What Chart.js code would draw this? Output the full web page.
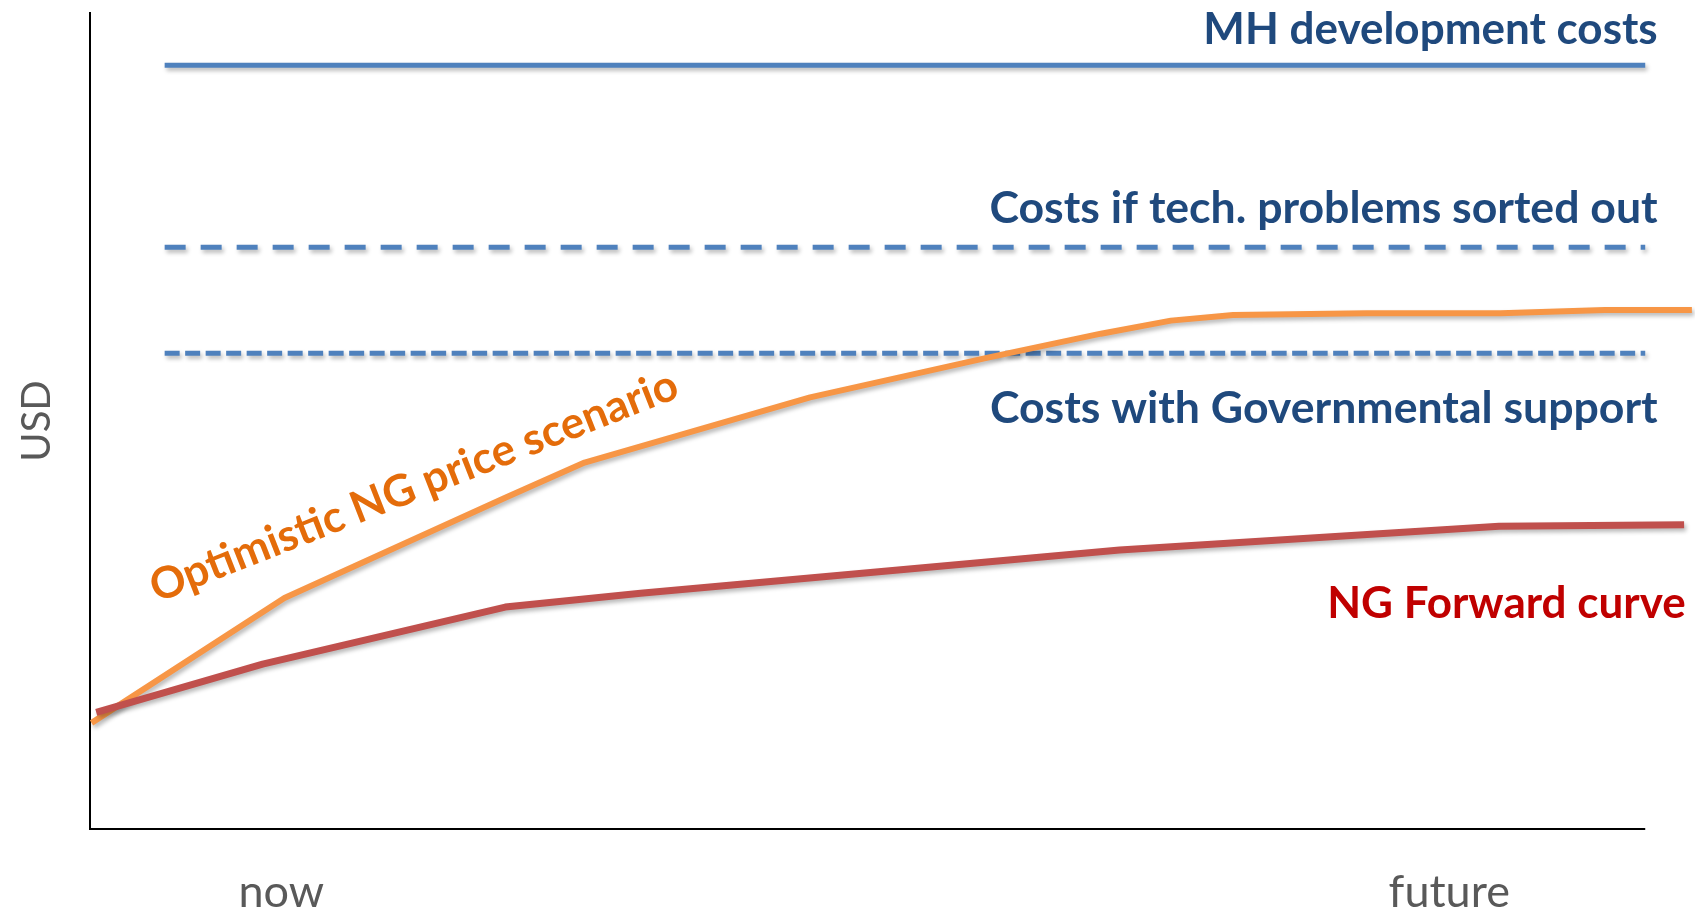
<!DOCTYPE html>
<html>
<head>
<meta charset="utf-8">
<script src="https://cdn.jsdelivr.net/npm/chart.js@4.4.0/dist/chart.umd.min.js"></script>
<style>
  html, body { margin: 0; padding: 0; background: #fff; }
  #wrap { width: 1695px; height: 911px; position: relative; }
</style>
</head>
<body>
<div id="wrap"><canvas id="chart"></canvas></div>
<script>
// x: 0..100 along the drawn axis (the curves run a bit past it), y: 0..100 unmarked USD
const tickLabels = ["now", "future"];
const tickValues = [12.3, 87.4];

const forwardX = [0.4, 11.1, 26.7, 35.4, 66.2, 90.6, 102.5];
const forwardY = [14.3, 20.2, 27.2, 28.9, 34.2, 37.1, 37.3];

const optimisticX = [0.1, 12.5, 26.7, 31.8, 46.3, 57.8, 65.0, 69.5, 73.5, 82.1, 90.7, 97.4, 103.0];
const optimisticY = [13.0, 28.3, 40.6, 44.9, 52.9, 57.8, 60.7, 62.3, 63.0, 63.2, 63.2, 63.6, 63.6];

const costX = [4.8, 100];
const mhCosts = [93.6, 93.6];
const techCosts = [71.3, 71.3];
const govCosts = [58.3, 58.3];

const xy = (xs, ys) => xs.map((x, i) => ({ x: x, y: ys[i] }));

const BLUE = '#4F81BD';
const FONT = 'Lato, "Open Sans", sans-serif';

function drawLabel(chart, text, xv, yv, color, align, size, angle) {
    const ctx = chart.ctx;
    const x = chart.scales.x.getPixelForValue(xv);
    const y = chart.scales.y.getPixelForValue(yv);
    ctx.save();
    ctx.translate(x, y);
    if (angle) ctx.rotate(angle * Math.PI / 180);
    ctx.font = 'bold ' + size + 'px ' + FONT;
    ctx.fillStyle = color;
    ctx.textAlign = align;
    ctx.textBaseline = 'alphabetic';
    ctx.fillText(text, 0, 0);
    ctx.restore();
}

const overlay = {
    id: 'overlay',
    beforeDatasetsDraw(chart) {
        const ctx = chart.ctx;
        ctx.save();
        ctx.shadowColor = 'rgba(0,0,0,0.28)';
        ctx.shadowBlur = 4;
        ctx.shadowOffsetX = 2;
        ctx.shadowOffsetY = 3;
    },
    afterDatasetsDraw(chart) {
        const ctx = chart.ctx;
        ctx.restore();

        // x axis only runs to the end of the cost lines
        const xs = chart.scales.x;
        const bottom = chart.chartArea.bottom;
        ctx.save();
        ctx.strokeStyle = '#000';
        ctx.lineWidth = 2;
        ctx.beginPath();
        ctx.moveTo(chart.chartArea.left - 1, bottom);
        ctx.lineTo(xs.getPixelForValue(100), bottom);
        ctx.stroke();
        ctx.restore();

        drawLabel(chart, 'MH development costs', 100.8, 96.2, '#1F497D', 'right', 44);
        drawLabel(chart, 'Costs if tech. problems sorted out', 100.8, 74.3, '#1F497D', 'right', 44.6);
        drawLabel(chart, 'Costs with Governmental support', 100.8, 49.8, '#1F497D', 'right', 44.6);
        drawLabel(chart, 'NG Forward curve', 102.6, 25.9, '#C00000', 'right', 44);
        drawLabel(chart, 'Optimistic NG price scenario', 4.3, 27.7, '#E46C0A', 'left', 44, -21.5);
    }
};

new Chart(document.getElementById('chart'), {
    type: 'line',
    data: {
        datasets: [
            { label: 'NG Forward curve', data: xy(forwardX, forwardY), borderColor: '#C0504D', borderWidth: 7 },
            { label: 'Optimistic NG price scenario', data: xy(optimisticX, optimisticY), borderColor: '#F79646', borderWidth: 6 },
            { label: 'Costs with Governmental support', data: xy(costX, govCosts), borderColor: BLUE, borderWidth: 5, borderDash: [15, 5.5] },
            { label: 'Costs if tech. problems sorted out', data: xy(costX, techCosts), borderColor: BLUE, borderWidth: 5, borderDash: [21, 15] },
            { label: 'MH development costs', data: xy(costX, mhCosts), borderColor: BLUE, borderWidth: 5 }
        ]
    },
    options: {
        responsive: true,
        maintainAspectRatio: false,
        animation: false,
        layout: { padding: { left: 0, right: 0, top: 13, bottom: 1 } },
        elements: {
            point: { radius: 0, hoverRadius: 0 },
            line: { tension: 0, borderCapStyle: 'butt', borderJoinStyle: 'round' }
        },
        plugins: { legend: { display: false }, tooltip: { enabled: false } },
        scales: {
            x: {
                type: 'linear',
                min: 0,
                max: 103.2,
                grid: { display: false, drawTicks: false },
                border: { display: false },
                afterBuildTicks: (scale) => {
                    scale.ticks = tickValues.map(v => ({ value: v }));
                },
                afterFit: (scale) => { scale.height = 81; },
                ticks: {
                    padding: 45,
                    color: '#595959',
                    font: { family: FONT, size: 45, lineHeight: 0.8 },
                    callback: (value, index) => tickLabels[index]
                }
            },
            y: {
                min: 0,
                max: 100,
                grid: { display: false, drawTicks: false },
                border: { display: true, color: '#000', width: 2 },
                ticks: { display: false },
                title: {
                    display: true,
                    text: 'USD',
                    color: '#595959',
                    font: { family: FONT, size: 40, lineHeight: 1.2 },
                    padding: { top: 13, bottom: 29 }
                }
            }
        }
    },
    plugins: [overlay]
});
</script>
</body>
</html>
